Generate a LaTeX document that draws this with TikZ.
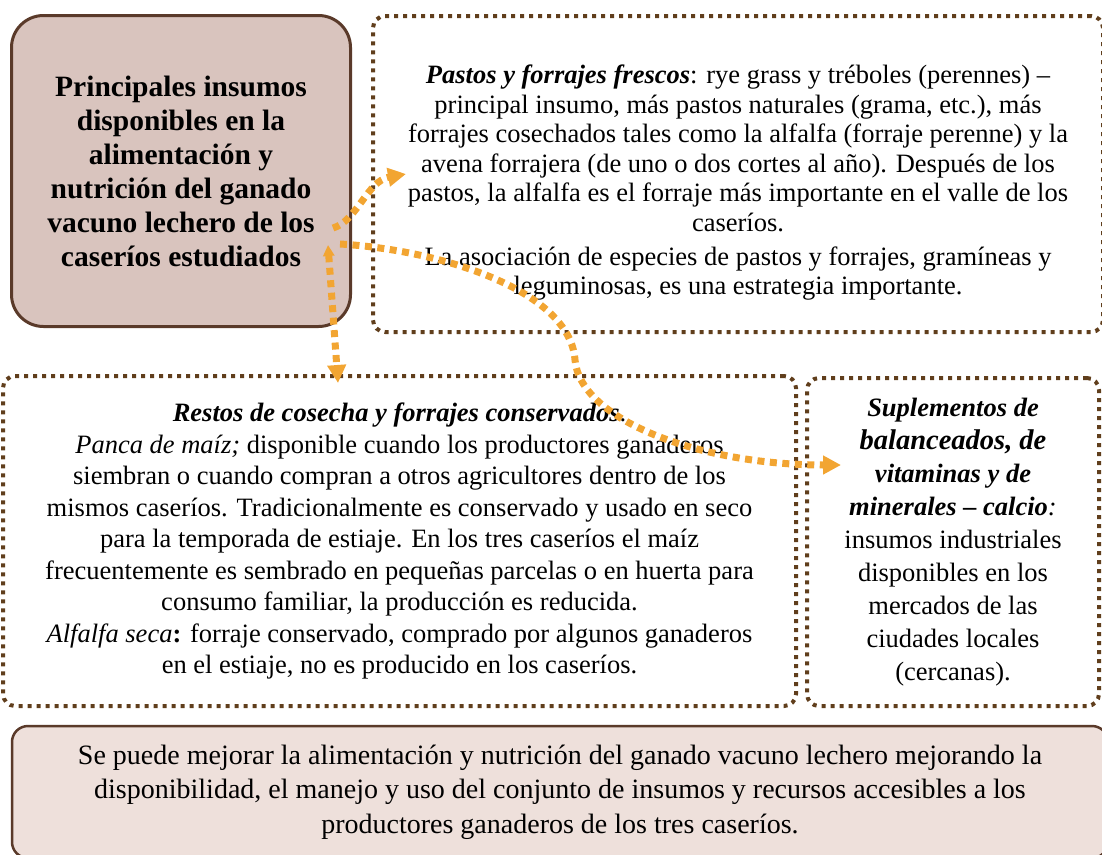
\documentclass[tikz,border=0pt]{standalone}
\usepackage{fontspec}
\setmainfont{Liberation Serif}
\usepackage{tikz}
\usetikzlibrary{positioning,arrows.meta}
\usepackage{xcolor}
\definecolor{CasBrown}{RGB}{90,58,42}
\definecolor{CasDots}{RGB}{96,62,28}
\definecolor{CasRose}{RGB}{217,196,190}
\definecolor{CasLightRose}{RGB}{238,224,219}
\definecolor{CasOrange}{RGB}{242,165,50}

\begin{document}
\begin{tikzpicture}[x=1pt,y=-1pt,
head/.style={rectangle,rounded corners=32pt,draw=CasBrown,line width=3pt,fill=CasRose,
minimum width=339pt,minimum height=311pt,align=center,font=\bfseries\fontsize{29.5}{34}\selectfont},
box/.style={rectangle,rounded corners=12pt,draw=CasDots,line width=4pt,dash pattern=on 4pt off 5pt,
align=center,font=\fontsize{26.5}{29.6}\selectfont},
note/.style={rectangle,rounded corners=16pt,draw=CasBrown,line width=2.5pt,fill=CasLightRose,
minimum width=1096pt,minimum height=132pt,align=center,font=\fontsize{28}{34.5}\selectfont},
arrow/.style={-{Triangle[length=18pt,width=18pt]},line width=7pt,draw=CasOrange,dash pattern=on 7pt off 5.5pt}
]
\useasboundingbox (0,0) rectangle (1102,854);
\node[head] (ins) at (181,171) {Principales insumos\\disponibles en la\\alimentación y\\nutrición del ganado\\vacuno lechero de los\\caseríos estudiados};
\node[box,minimum width=730pt,minimum height=316pt] (pas) at (738,174) {\rule{0pt}{36pt}\textbf{\textit{Pastos y forrajes frescos}}: rye grass y tréboles (perennes) –\\
principal insumo, más pastos naturales (grama, etc.), más\\
forrajes cosechados tales como la alfalfa (forraje perenne) y la\\
avena forrajera (de uno o dos cortes al año). Después de los\\
pastos, la alfalfa es el forraje más importante en el valle de los\\
caseríos.\\[4pt]
La asociación de especies de pastos y forrajes, gramíneas y\\
leguminosas, es una estrategia importante.};
\node[box,minimum width=793pt,minimum height=330pt,font=\fontsize{26.5}{31.5}\selectfont] (res) at (399.5,541) {\textbf{\textit{Restos de cosecha y forrajes conservados}}.\\
\textit{Panca de maíz;} disponible cuando los productores ganaderos\\
siembran o cuando compran a otros agricultores dentro de los\\
mismos caseríos. Tradicionalmente es conservado y usado en seco\\
para la temporada de estiaje. En los tres caseríos el maíz\\
frecuentemente es sembrado en pequeñas parcelas o en huerta para\\
consumo familiar, la producción es reducida.\\
\textit{Alfalfa seca}\textbf{:} forraje conservado, comprado por algunos ganaderos\\
en el estiaje, no es producido en los caseríos.};
\node[box,minimum width=292pt,minimum height=328pt,font=\fontsize{26.5}{33}\selectfont] (sup) at (953,542) {\textbf{\textit{Suplementos de}}\\
{\fontsize{28.5}{33}\selectfont\textbf{\textit{balanceados, de}}}\\
\textbf{\textit{vitaminas y de}}\\
\textbf{\textit{minerales – calcio}}\textit{:}\\
insumos industriales\\disponibles en los\\mercados de las\\ciudades locales\\(cercanas).};
\node[note] (con) at (560,792) {Se puede mejorar la alimentación y nutrición del ganado vacuno lechero mejorando la\\
disponibilidad, el manejo y uso del conjunto de insumos y recursos accesibles a los\\
productores ganaderos de los tres caseríos.};
\coordinate (a1) at (333,228); \coordinate (b1) at (406,174);
\coordinate (a2) at (340,244); \coordinate (m2) at (575,360); \coordinate (b2) at (841,465);
\coordinate (a3) at (328,245); \coordinate (b3) at (338,383);
\draw[arrow] (a1) .. controls (357,221) and (367,181) .. (b1);
\draw[arrow] (a2) .. controls (440,250) and (570,290) .. (m2) .. controls (580,420) and (700,465) .. (b2);
\draw[arrow,{Triangle[length=11pt,width=11pt]}-{Triangle[length=18pt,width=18pt]}] (a3)--(b3);
\end{tikzpicture}
\end{document}
